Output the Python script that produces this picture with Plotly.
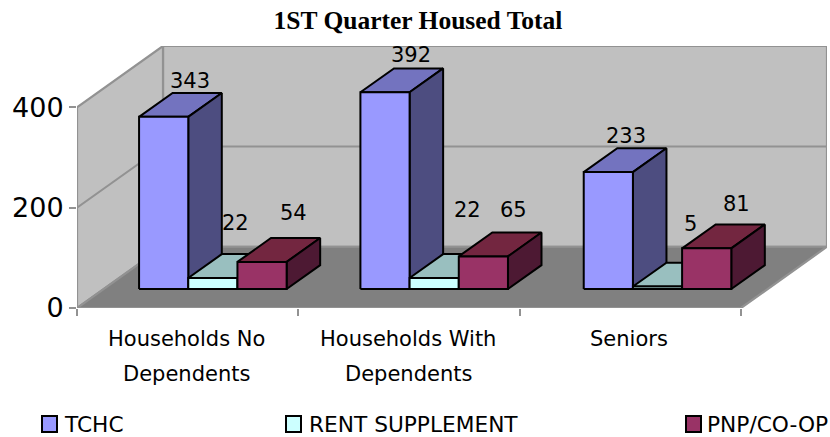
import plotly.graph_objects as go

title = "1ST Quarter Housed Total"
category_lines = [["Households No", "Dependents"], ["Households With", "Dependents"], ["Seniors"]]
series_names = ["TCHC", "RENT SUPPLEMENT", "PNP/CO-OP"]
tchc = [343, 392, 233]
rent_supplement = [22, 22, 5]
pnp_coop = [54, 65, 81]
y_ticks = [0, 200, 400]

W, H = 830, 437
L, R, T, B = 77, 3, 46, 129          # plot margins
cat_px = 221.33                      # px per category
val_px = 0.5                         # px per unit
depth_px = (86, 61)                  # floor depth on screen
front, thick = 0.31, 0.39            # bar position inside the floor depth
gap, bar_w = [0.16, 0.16, 0.169], 2 / 9

front_cols = ["#9999FF", "#CCFFFF", "#993366"]
side_cols = ["#4D4D80", "#668080", "#4D1933"]
top_cols = ["#7373BF", "#99BFBF", "#732640"]
edge = "#929292"

# label nudges in pixels (right, up) from the middle of each bar's top
nudge = [[(10, 24), (9, 25), (1, 24)],
         [(6, 43), (17, 56), (16, 51)],
         [(15, 37), (13, 34), (13, 32)]]


def proj(x, v, d):
    """Oblique projection of (category, value, depth) to axis coordinates."""
    return x + d * depth_px[0] / cat_px, v + d * depth_px[1] / val_px


def poly(points, fill, line=None, width=2):
    xs, ys = zip(*(points + points[:1]))
    return go.Scatter(x=xs, y=ys, mode="lines", fill="toself", fillcolor=fill,
                      line=dict(color=line or fill, width=width), cliponaxis=False,
                      hoverinfo="skip", showlegend=False)


def path(points, color, width=2):
    xs, ys = zip(*points)
    return go.Scatter(x=xs, y=ys, mode="lines", line=dict(color=color, width=width),
                      cliponaxis=False, hoverinfo="skip", showlegend=False)


fig = go.Figure()
n = len(tchc)
top = y_ticks[-1]

# walls and floor
fig.add_trace(poly([proj(0, 0, 1), proj(n, 0, 1), proj(n, top, 1), proj(0, top, 1)], "#C0C0C0", edge, 2.2))
fig.add_trace(poly([proj(0, 0, 0), proj(0, 0, 1), proj(0, top, 1), proj(0, top, 0)], "#C0C0C0", edge, 2.2))
fig.add_trace(poly([proj(0, 0, 0), proj(n, 0, 0), proj(n, 0, 1), proj(0, 0, 1)], "#808080", edge, 2.2))
for v in y_ticks[1:-1]:
    fig.add_trace(path([proj(0, v, 0), proj(0, v, 1), proj(n, v, 1)], edge, 2))

# bars
series = [tchc, rent_supplement, pnp_coop]
for i in range(n):
    for j, vals in enumerate(series):
        v = vals[i]
        x0 = i + gap[i] + j * bar_w
        x1 = x0 + bar_w
        d0, d1 = front, front + thick
        fig.add_trace(poly([proj(x0, v, d0), proj(x1, v, d0), proj(x1, v, d1), proj(x0, v, d1)], top_cols[j], "black"))
        fig.add_trace(poly([proj(x1, 0, d0), proj(x1, 0, d1), proj(x1, v, d1), proj(x1, v, d0)], side_cols[j], "black"))
        fig.add_trace(poly([proj(x0, 0, d0), proj(x1, 0, d0), proj(x1, v, d0), proj(x0, v, d0)], front_cols[j], "black"))

annotations = []
label_font = dict(family="DejaVu Sans", size=21, color="black")
for j, vals in enumerate(series):
    for i, v in enumerate(vals):
        x, y = proj(i + gap[i] + (j + 0.5) * bar_w, v, front + thick / 2)
        annotations.append(dict(x=x, y=y, xref="x", yref="y", text=str(v), showarrow=False,
                                xshift=nudge[j][i][0], yshift=nudge[j][i][1], font=label_font))

# category labels
cat_font = dict(family="DejaVu Sans", size=21, color="black")
for i, lines in enumerate(category_lines):
    for k, line in enumerate(lines):
        annotations.append(dict(x=i + 0.5, y=0, xref="x", yref="y", text=line, showarrow=False,
                                xshift=-1, yshift=-31 - 35 * k, font=cat_font))

# legend
legend_swatch_px = [42, 286, 686]
legend_text_px = [62, 307, 705]
shapes = []
for name, sx, tx, col in zip(series_names, legend_swatch_px, legend_text_px, front_cols):
    shapes.append(dict(type="rect", xref="paper", yref="paper",
                       x0=(sx - L) / (W - L - R), x1=(sx + 15 - L) / (W - L - R),
                       y0=(H - B - 432) / (H - T - B), y1=(H - B - 416) / (H - T - B),
                       fillcolor=col, line=dict(color="black", width=2)))
    annotations.append(dict(x=(tx - L) / (W - L - R), y=(H - B - 424) / (H - T - B), xref="paper", yref="paper",
                            xanchor="left", yanchor="middle", text=name, showarrow=False,
                            font=dict(family="DejaVu Sans", size=21.7, color="black")))

fig.update_layout(
    width=W, height=H, margin=dict(l=L, r=R, t=T, b=B),
    paper_bgcolor="white", plot_bgcolor="white", showlegend=False,
    title=dict(text=f"<b>{title}</b>", x=418 / W, xanchor="center", y=1 - 20 / H, yanchor="middle",
               font=dict(family="Liberation Serif", size=25.5, color="black")),
    xaxis=dict(range=[0, n + depth_px[0] / cat_px], tickvals=list(range(n + 1)), ticks="outside", ticklen=7,
               tickcolor=edge, tickwidth=2, showticklabels=False, showgrid=False, zeroline=False),
    yaxis=dict(range=[0, top + depth_px[1] / val_px], tickvals=y_ticks, ticks="outside", ticklen=7,
               tickcolor=edge, tickwidth=2, showgrid=False, zeroline=False,
               tickfont=dict(family="DejaVu Sans", size=27, color="black")),
    annotations=annotations, shapes=shapes,
)
fig.write_html("out.html", post_script="document.body.style.margin='0';", config=dict(displayModeBar=False))
